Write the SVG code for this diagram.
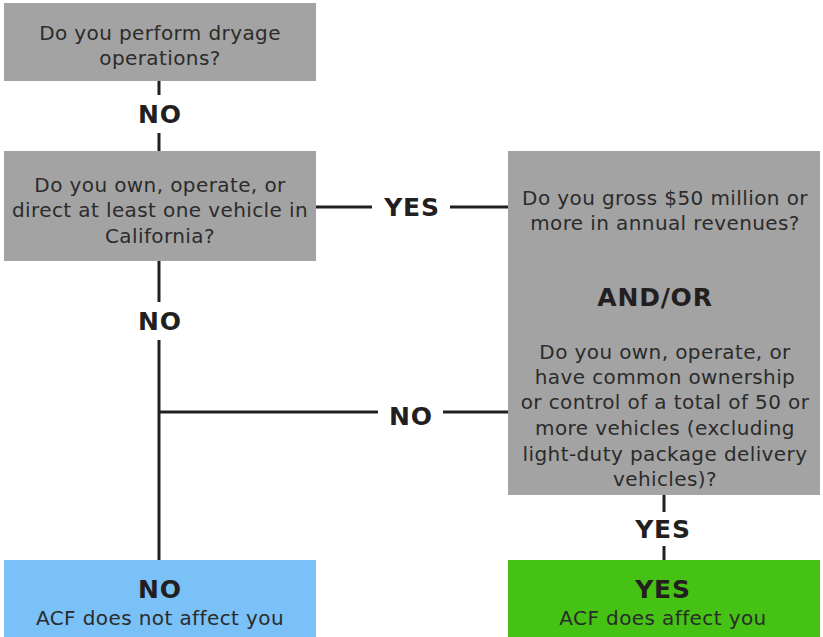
<svg xmlns="http://www.w3.org/2000/svg" width="823" height="637" viewBox="0 0 823 637">
<style>
.box{fill:#a3a3a3}
.t{font-family:"DejaVu Sans","Open Sans",sans-serif;font-size:20px;letter-spacing:0.4px;fill:#2b2b2b;text-anchor:middle}
.b{font-family:"DejaVu Sans","Open Sans",sans-serif;font-size:25px;letter-spacing:0.8px;font-weight:bold;fill:#231f20;text-anchor:middle}
.c{stroke:#231f20;stroke-width:3;fill:none}
</style>
<rect width="823" height="637" fill="#ffffff"/>
<g id="connectors">
<path class="c" d="M159 81V95M159 133V151"/>
<path class="c" d="M316 207H372M450 207H508"/>
<path class="c" d="M159 261V302M159 340V560"/>
<path class="c" d="M159 412H378M443 412H508"/>
<path class="c" d="M664 495V512M664 546V560"/>
<text class="b" x="160" y="123">NO</text>
<text class="b" x="412" y="216">YES</text>
<text class="b" x="160" y="330">NO</text>
<text class="b" x="411" y="425">NO</text>
<text class="b" x="663" y="538">YES</text>
</g>
<g id="q1">
<rect class="box" x="4" y="3" width="312" height="78"/>
<text class="t" x="160" y="40">Do you perform dryage</text>
<text class="t" x="160" y="65">operations?</text>
</g>
<g id="q2">
<rect class="box" x="4" y="151" width="312" height="110"/>
<text class="t" x="160" y="192">Do you own, operate, or</text>
<text class="t" x="160" y="217">direct at least one vehicle in</text>
<text class="t" x="160" y="243">California?</text>
</g>
<g id="q3">
<rect class="box" x="508" y="151" width="312" height="344"/>
<text class="t" x="665" y="205">Do you gross $50 million or</text>
<text class="t" x="665" y="230">more in annual revenues?</text>
<text class="b" x="655" y="306">AND/OR</text>
<text class="t" x="665" y="359">Do you  own, operate, or</text>
<text class="t" x="665" y="384">have common ownership</text>
<text class="t" x="665" y="409">or control of a total of 50 or</text>
<text class="t" x="665" y="435">more vehicles (excluding</text>
<text class="t" x="665" y="461">light-duty package delivery</text>
<text class="t" x="665" y="486">vehicles)?</text>
</g>
<g id="no">
<rect x="4" y="560" width="312" height="77" fill="#7ac1f7"/>
<text class="b" x="160" y="598">NO</text>
<text class="t" x="160" y="625">ACF does not affect you</text>
</g>
<g id="yes">
<rect x="508" y="560" width="312" height="77" fill="#45c214"/>
<text class="b" x="663" y="598">YES</text>
<text class="t" x="663" y="625">ACF does affect you</text>
</g>
</svg>
